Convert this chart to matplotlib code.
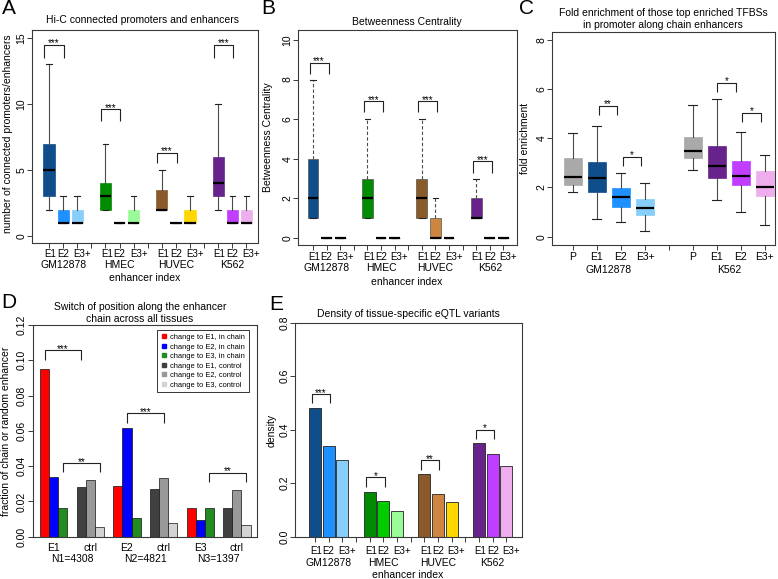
import matplotlib
matplotlib.use('Agg')
import matplotlib.pyplot as plt
from matplotlib import transforms
from matplotlib.lines import Line2D

plt.rcParams['font.family'] = ['Liberation Sans', 'DejaVu Sans']

# ---------------- data ----------------
cell_types = ['GM12878', 'HMEC', 'HUVEC', 'K562']
enh_labels = ['E1', 'E2', 'E3+']
cell_colors = ['#104E8B', '#1E90FF', '#87CEFA',
               '#008B00', '#00CD00', '#98FB98',
               '#8B5A2B', '#CD853F', '#FFD700',
               '#68228B', '#BF3EFF', '#EEAEEE']

# A: Hi-C connected promoters/enhancers (box stats)
a_whislo = [2, 1, 1, 2, 1, 1, 2, 1, 1, 2, 1, 1]
a_q1 = [3, 1, 1, 2, 1, 1, 2, 1, 1, 3, 1, 1]
a_med = [5, 1, 1, 3, 1, 1, 2, 1, 1, 4, 1, 1]
a_q3 = [7, 2, 2, 4, 1, 2, 3.5, 1, 2, 6, 2, 2]
a_whishi = [13, 3, 3, 7, 1, 3, 5, 1, 3, 10, 3, 3]
a_sig = ['***', '***', '***', '***']
a_sig_leg = [13.5, 8.7, 5.5, 13.5]
a_sig_top = [14.5, 9.6, 6.3, 14.5]

# B: Betweenness centrality (box stats)
b_whislo = [1, 0, 0, 1, 0, 0, 1, 0, 0, 1, 0, 0]
b_q1 = [1, 0, 0, 1, 0, 0, 1, 0, 0, 1, 0, 0]
b_med = [2, 0, 0, 2, 0, 0, 2, 0, 0, 1, 0, 0]
b_q3 = [4, 0, 0, 3, 0, 0, 3, 1, 0, 2, 0, 0]
b_whishi = [8, 0, 0, 6, 0, 0, 6, 2, 0, 3, 0, 0]
b_sig = ['***', '***', '***', '***']
b_sig_leg = [8.3, 6.35, 6.35, 3.27]
b_sig_top = [8.85, 6.9, 6.9, 3.87]

# C: fold enrichment (box stats)
c_groups = ['GM12878', 'K562']
c_labels = ['P', 'E1', 'E2', 'E3+']
c_colors = ['#A9A9A9', '#104E8B', '#1E90FF', '#87CEFA',
            '#A9A9A9', '#68228B', '#BF3EFF', '#EEAEEE']
c_whislo = [1.83, 0.70, 0.61, 0.23, 2.71, 1.49, 1.02, 0.46]
c_q1 = [2.10, 1.83, 1.19, 0.88, 3.19, 2.37, 2.10, 1.65]
c_med = [2.44, 2.40, 1.60, 1.15, 3.50, 2.89, 2.47, 2.03]
c_q3 = [3.19, 3.05, 1.97, 1.52, 4.07, 3.69, 3.09, 2.68]
c_whishi = [4.20, 4.50, 2.58, 2.17, 5.36, 5.59, 4.27, 3.32]
c_sig = ['**', '*', '*', '*']
c_sig_x = [(2.08, 2.85), (3.08, 3.85), (7.0, 7.8), (8.05, 8.85)]
c_sig_leg = [4.95, 2.87, 5.9, 4.68]
c_sig_top = [5.32, 3.25, 6.26, 5.04]

# D: switch of position
d_groups = ['E1', 'E2', 'E3']
d_N = ['N1=4308', 'N2=4821', 'N3=1397']
d_chain_to_E1 = [0.095, 0.0288, 0.0165]
d_chain_to_E2 = [0.034, 0.0614, 0.0094]
d_chain_to_E3 = [0.0165, 0.0104, 0.0165]
d_ctrl_to_E1 = [0.028, 0.0272, 0.0165]
d_ctrl_to_E2 = [0.032, 0.0335, 0.0265]
d_ctrl_to_E3 = [0.0053, 0.0076, 0.0065]
d_legend = ['change to E1, in chain', 'change to E2, in chain',
            'change to E3, in chain', 'change to E1, control',
            'change to E2, control', 'change to E3, control']
d_colors = ['#FF0000', '#0000FF', '#228B22', '#404040', '#999999', '#D3D3D3']
d_sig = ['***', '**', '***', '**']
d_sig_x = [(1.5, 5.5), (3.5, 7.5), (10.5, 14.5), (19.5, 23.5)]
d_sig_leg = [0.1002, 0.0365, 0.0647, 0.0308]
d_sig_top = [0.1058, 0.0416, 0.0699, 0.0363]

# E: density of eQTL variants
e_density = [0.48, 0.34, 0.285, 0.168, 0.133, 0.097,
             0.234, 0.158, 0.13, 0.348, 0.309, 0.264]
e_sig = ['***', '*', '**', '*']
e_sig_leg = [0.50, 0.187, 0.249, 0.364]
e_sig_top = [0.533, 0.222, 0.286, 0.399]

# ---------------- figure ----------------
W, H = 778, 579
fig = plt.figure(figsize=(W / 100, H / 100), dpi=100)
FS = 7.5
FS_ENH = 7.0
ENH_SHIFT = [0.1, 0.0, 0.35]   # label nudges so the tight labels touch, not overlap
SPINE = '#3a3a3a'


def add_axes_px(x0, x1, y0, y1):
    return fig.add_axes([x0 / W, 1 - y1 / H, (x1 - x0) / W, (y1 - y0) / H])


def style(ax):
    for s in ax.spines.values():
        s.set_color(SPINE)
        s.set_linewidth(0.8)
    ax.tick_params(direction='out', length=3.6, width=0.7, colors=SPINE,
                   labelcolor='black', labelsize=FS, pad=0.5)


def yticks(ax, vals, fmt):
    ax.set_yticks(vals)
    ax.set_yticklabels([fmt.format(v) for v in vals], rotation=90, va='center')


def xtext(ax, x, ypx, s, fs=FS):
    tr = transforms.blended_transform_factory(ax.transData, fig.transFigure)
    ax.text(x, 1 - ypx / H, s, transform=tr, ha='center', va='center', fontsize=fs)


def figtext(xpx, ypx, s, fs=FS, **kw):
    fig.text(xpx / W, 1 - ypx / H, s, fontsize=fs, ha='center', va='center', **kw)


def bracket(ax, x1, x2, yleg, ytop, label):
    ax.plot([x1, x1, x2, x2], [yleg, ytop, ytop, yleg], color='#222222', lw=0.8,
            solid_capstyle='butt')
    ax.annotate(label, xy=((x1 + x2) / 2, ytop), xytext=(0, -1.2),
                textcoords='offset points', ha='center', va='baseline', fontsize=7)


def boxes(ax, pos, lo, q1, med, q3, hi, colors, width, whisk_ls, box_edge=None):
    stats = [dict(whislo=a, q1=b, med=c, q3=d, whishi=e, fliers=[])
             for a, b, c, d, e in zip(lo, q1, med, q3, hi)]
    res = ax.bxp(stats, positions=pos, widths=width, patch_artist=True,
                 showfliers=False, manage_ticks=False,
                 capwidths=[width * 0.5] * len(pos),
                 medianprops=dict(color='black', lw=1.6, solid_capstyle='butt'),
                 whiskerprops=dict(color='#4a4a4a', lw=0.8, linestyle=whisk_ls),
                 capprops=dict(color='#222222', lw=0.8))
    for p, c in zip(res['boxes'], colors):
        p.set_facecolor(c)
        p.set_edgecolor(c if box_edge is None else box_edge)
        p.set_linewidth(0.5)


def enh_row(ax, positions, ypx):
    for i, p in enumerate(positions):
        xtext(ax, p + ENH_SHIFT[i % 3], ypx, enh_labels[i % 3], fs=FS_ENH)


pos12 = [4 * g + k + 1 for g in range(4) for k in range(3)]
grp_centers = [4 * g + 2 for g in range(4)]

# ---------------- Panel A ----------------
axA = add_axes_px(32, 258, 30, 243)
style(axA)
boxes(axA, pos12, a_whislo, a_q1, a_med, a_q3, a_whishi, cell_colors, 0.8, '-')
axA.set_xlim(-0.21, 15.82)
axA.set_ylim(-0.53, 15.6)
yticks(axA, [0, 5, 10, 15], '{:d}')
axA.set_xticks(range(1, 16))
axA.set_xticklabels([])
for g in range(4):
    bracket(axA, pos12[3 * g] - 0.33, pos12[3 * g + 1] + 0.05,
            a_sig_leg[g], a_sig_top[g], a_sig[g])
enh_row(axA, pos12, 254)
for c, n in zip(grp_centers, cell_types):
    xtext(axA, c, 265, n)
figtext(145, 278, 'enhancer index')
figtext(143, 20, 'Hi-C connected promoters and enhancers')
figtext(8, 134, 'number of connected promoters/enhancers', rotation=90)
figtext(9, 9, 'A', fs=15)

# ---------------- Panel B ----------------
axB = add_axes_px(298, 517, 30, 245)
style(axB)
boxes(axB, pos12, b_whislo, b_q1, b_med, b_q3, b_whishi, cell_colors, 0.8,
      (0, (3, 2)), box_edge='#555555')
axB.set_xlim(-0.10, 16.0)
axB.set_ylim(-0.354, 10.5)
yticks(axB, [0, 2, 4, 6, 8, 10], '{:d}')
axB.set_xticks(range(1, 16))
axB.set_xticklabels([])
for g in range(4):
    bracket(axB, pos12[3 * g] - 0.25, pos12[3 * g + 1] + 0.15,
            b_sig_leg[g], b_sig_top[g], b_sig[g])
enh_row(axB, pos12, 257)
for c, n in zip(grp_centers, cell_types):
    xtext(axB, c, 268, n)
figtext(407, 282, 'enhancer index')
figtext(407, 22, 'Betweenness Centrality')
figtext(268, 137, 'Betweenness Centrality', rotation=90)
figtext(268, 9, 'B', fs=15)

# ---------------- Panel C ----------------
axC = add_axes_px(552, 775, 32, 245)
style(axC)
c_pos = [1, 2, 3, 4, 6, 7, 8, 9]
boxes(axC, c_pos, c_whislo, c_q1, c_med, c_q3, c_whishi, c_colors, 0.75, '-')
axC.set_xlim(0.125, 9.42)
axC.set_ylim(-0.337, 8.32)
yticks(axC, [0, 2, 4, 6, 8], '{:d}')
axC.set_xticks(range(1, 10))
axC.set_xticklabels([])
for (x1, x2), lo, hi, s in zip(c_sig_x, c_sig_leg, c_sig_top, c_sig):
    bracket(axC, x1, x2, lo, hi, s)
for i, p in enumerate(c_pos):
    xtext(axC, p, 257, c_labels[i % 4])
for c, n in zip([2.5, 7.5], c_groups):
    xtext(axC, c, 270, n)
figtext(663, 13, 'Fold enrichment of those top enriched TFBSs')
figtext(663, 25, 'in promoter along chain enhancers')
figtext(525, 138, 'fold enrichment', rotation=90)
figtext(526, 9, 'C', fs=15)

# ---------------- Panel D ----------------
axD = add_axes_px(32.7, 257, 325, 536.7)
style(axD)
series = [d_chain_to_E1, d_chain_to_E2, d_chain_to_E3,
          d_ctrl_to_E1, d_ctrl_to_E2, d_ctrl_to_E3]
for si, vals in enumerate(series):
    is_ctrl = si >= 3
    k = si % 3
    xs = [1 + 4 * (2 * g + (1 if is_ctrl else 0)) + k + 0.5 for g in range(3)]
    axD.bar(xs, vals, width=1.0, color=d_colors[si], edgecolor='#111111',
            linewidth=0.5, zorder=2)
axD.set_xlim(0.2, 24.7)
axD.set_ylim(0, 0.12)
yticks(axD, [0, 0.02, 0.04, 0.06, 0.08, 0.10, 0.12], '{:.2f}')
axD.set_xticks([])
for (x1, x2), lo, hi, s in zip(d_sig_x, d_sig_leg, d_sig_top, d_sig):
    bracket(axD, x1, x2, lo, hi, s)
for g in range(3):
    xtext(axD, 2.5 + 8 * g, 548, d_groups[g])
    xtext(axD, 6.5 + 8 * g, 548, 'ctrl')
    xtext(axD, 4.5 + 8 * g, 559, d_N[g])
handles = [Line2D([], [], linestyle='none', marker='s', markersize=3.2,
                  markerfacecolor=c, markeredgecolor=c) for c in d_colors]
leg = axD.legend(handles, d_legend, loc='upper right',
                 bbox_to_anchor=(0.964, 0.976), borderaxespad=0, fontsize=5.4,
                 handlelength=0.8, handletextpad=0.5, labelspacing=0.3,
                 borderpad=0.5, fancybox=False, framealpha=1)
leg.get_frame().set_edgecolor('#333333')
leg.get_frame().set_linewidth(0.7)
figtext(140, 307, 'Switch of position along the enhancer')
figtext(140, 319, 'chain across all tissues')
figtext(6, 431, 'fraction of chain or random enhancer', rotation=90)
figtext(9, 302, 'D', fs=15)

# ---------------- Panel E ----------------
axE = add_axes_px(295, 522, 322.7, 536.5)
style(axE)
axE.bar(pos12, e_density, width=0.88, color=cell_colors, edgecolor='#222222',
        linewidth=0.6, zorder=2)
axE.set_xlim(-0.46, 16.14)
axE.set_ylim(0, 0.8)
yticks(axE, [0, 0.2, 0.4, 0.6, 0.8], '{:.1f}')
axE.set_xticks(range(1, 16))
axE.set_xticklabels([])
for g in range(4):
    bracket(axE, pos12[3 * g] - 0.25, pos12[3 * g + 1] + 0.1,
            e_sig_leg[g], e_sig_top[g], e_sig[g])
enh_row(axE, pos12, 551)
for c, n in zip(grp_centers, cell_types):
    xtext(axE, c, 563, n)
figtext(408, 575, 'enhancer index')
figtext(408, 314, 'Density of tissue-specific eQTL variants')
figtext(272, 430, 'density', rotation=90)
figtext(276, 304, 'E', fs=15)

fig.savefig('out.png', dpi=100)
